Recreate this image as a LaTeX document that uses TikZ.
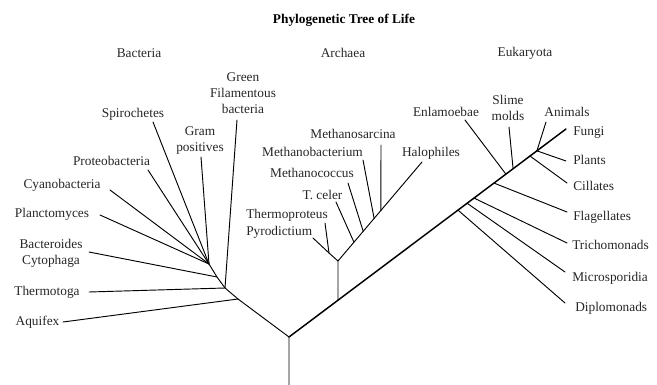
\documentclass[tikz,border=0pt]{standalone}
\usepackage{fontspec}
\setmainfont{Liberation Serif}
\usetikzlibrary{calc}

\begin{document}
\begin{tikzpicture}[
  x=0.75pt, y=-0.75pt,
  taxon/.style={inner sep=0pt, align=center, text=black!85,
                font=\fontsize{10}{12}\selectfont},
  kingdom/.style={taxon},
  heading/.style={taxon, text=black, font=\fontsize{10}{12}\selectfont\bfseries},
  branch/.style={draw=black, line width=0.7pt, line cap=round},
  trunk/.style={branch, line width=1.1pt}
]
  \useasboundingbox (0,0) rectangle (657,385);

  % Title and domains
  \node[heading] (title) at (344,20) {Phylogenetic Tree of Life};
  \node[kingdom] (bacteria)  at (139,53) {Bacteria};
  \node[kingdom] (archaea)   at (343,53) {Archaea};
  \node[kingdom] (eukaryota) at (525,53) {Eukaryota};

  % Root and main trunk
  \coordinate (base) at (289,385);
  \coordinate (root) at (289,337);
  \coordinate (fungi-tip) at (566,129);
  \coordinate (arc)  at ($(root)!0.177!(fungi-tip)$);
  \coordinate (euk1) at ($(root)!0.610!(fungi-tip)$);
  \coordinate (euk2) at ($(root)!0.643!(fungi-tip)$);
  \coordinate (euk3) at ($(root)!0.668!(fungi-tip)$);
  \coordinate (euk4) at ($(root)!0.740!(fungi-tip)$);
  \coordinate (euk5) at ($(root)!0.783!(fungi-tip)$);
  \coordinate (euk6) at ($(root)!0.809!(fungi-tip)$);
  \coordinate (euk7) at ($(root)!0.870!(fungi-tip)$);
  \coordinate (euk8) at ($(root)!0.895!(fungi-tip)$);

  % Bacteria stem
  \coordinate (bac1) at (238,299);
  \coordinate (bac2) at (225,288);
  \coordinate (bac3) at (217,277);
  \coordinate (bac4) at (209,264);

  % Archaea stem
  \coordinate (arc0) at (338,261);
  \coordinate (arc1) at (329,253);
  \coordinate (halo-tip) at (422,162);
  \coordinate (arc2) at ($(arc0)!0.19!(halo-tip)$);
  \coordinate (arc3) at ($(arc0)!0.30!(halo-tip)$);
  \coordinate (arc4) at ($(arc0)!0.43!(halo-tip)$);
  \coordinate (arc5) at ($(arc0)!0.51!(halo-tip)$);

  % Bacteria leaves
  \node[taxon] (aquifex)  at (37.5,322) {Aquifex};
  \node[taxon] (thermotoga) at (47,292) {Thermotoga};
  \node[taxon] (bacteroides) at (51,253) {Bacteroides\\Cytophaga};
  \node[taxon] (plancto)  at (52,214) {Planctomyces};
  \node[taxon] (cyano)    at (62,185) {Cyanobacteria};
  \node[taxon] (proteo)   at (111.5,161) {Proteobacteria};
  \node[taxon] (spiro)    at (133,114) {Spirochetes};
  \node[taxon] (gram)     at (200,141) {Gram\\positives};
  \node[taxon] (green)    at (243,93) {Green\\Filamentous\\bacteria};
  \coordinate (aquifex-tip) at (63,322);
  \coordinate (thermotoga-tip) at (89,292);
  \coordinate (bacteroides-tip) at (89,252);
  \coordinate (plancto-tip) at (100,215);
  \coordinate (cyano-tip) at (110,190);
  \coordinate (proteo-tip) at (148,170);
  \coordinate (spiro-tip) at (153,122);
  \coordinate (gram-tip) at (201,157);
  \coordinate (green-tip) at (237,120);

  % Archaea leaves
  \node[taxon, anchor=west] (thermoproteus) at (246,215) {Thermoproteus};
  \node[taxon, anchor=west] (pyrodictium) at (246,232) {Pyrodictium};
  \node[taxon] (celer)    at (322.5,195) {T. celer};
  \node[taxon] (mcoccus)  at (312,173) {Methanococcus};
  \node[taxon] (mbact)    at (312.5,152) {Methanobacterium};
  \node[taxon] (msarcina) at (353,134) {Methanosarcina};
  \node[taxon] (halo)     at (431,153) {Halophiles};
  \coordinate (thermoproteus-tip) at (325,223);
  \coordinate (pyrodictium-tip) at (313,238);
  \coordinate (celer-tip) at (336,202);
  \coordinate (mcoccus-tip) at (348,183);
  \coordinate (mbact-tip) at (363,160);
  \coordinate (msarcina-tip) at (381,145);

  % Eukaryota leaves
  \node[taxon] (enlam)   at (446,112) {Enlamoebae};
  \node[taxon] (slime)   at (508,108) {Slime\\molds};
  \node[taxon] (animals) at (567,112) {Animals};
  \node[taxon, anchor=west] (fungi)   at (573,133) {Fungi};
  \node[taxon, anchor=west] (plants)  at (573,160) {Plants};
  \node[taxon, anchor=west] (cill)    at (573,186) {Cillates};
  \node[taxon, anchor=west] (flag)    at (573,217) {Flagellates};
  \node[taxon, anchor=west] (tricho)  at (572,245) {Trichomonads};
  \node[taxon, anchor=west] (micro)   at (572,278) {Microsporidia};
  \node[taxon, anchor=west] (diplo)   at (575,308) {Diplomonads};
  \coordinate (enlam-tip) at (465,120);
  \coordinate (slime-tip) at (509,127);
  \coordinate (animals-tip) at (546,122);
  \coordinate (plants-tip) at (566,161);
  \coordinate (cill-tip) at (567,183);
  \coordinate (flag-tip) at (567,212);
  \coordinate (tricho-tip) at (567,243);
  \coordinate (micro-tip) at (565,272);
  \coordinate (diplo-tip) at (565,303);

  % Branches
  \draw[branch] (base) -- (root) -- (bac1) -- (bac2) -- (bac3) -- (bac4);
  \draw[trunk] (root) -- (fungi-tip);
  \draw[branch] (aquifex-tip) -- (bac1);
  \draw[branch] (thermotoga-tip) -- (bac2);
  \draw[branch] (green-tip) -- (bac2);
  \draw[branch] (bacteroides-tip) -- (bac3);
  \draw[branch] (plancto-tip) -- (bac4);
  \draw[branch] (cyano-tip) -- (bac4);
  \draw[branch] (proteo-tip) -- (bac4);
  \draw[branch] (spiro-tip) -- (bac4);
  \draw[branch] (gram-tip) -- (bac4);

  \draw[branch] (arc) -- (arc0) -- (halo-tip);
  \draw[branch] (arc0) -- (arc1);
  \draw[branch] (thermoproteus-tip) -- (arc1);
  \draw[branch] (pyrodictium-tip) -- (arc1);
  \draw[branch] (celer-tip) -- (arc2);
  \draw[branch] (mcoccus-tip) -- (arc3);
  \draw[branch] (mbact-tip) -- (arc4);
  \draw[branch] (msarcina-tip) -- (arc5);

  \draw[branch] (diplo-tip) -- (euk1);
  \draw[branch] (micro-tip) -- (euk2);
  \draw[branch] (tricho-tip) -- (euk3);
  \draw[branch] (flag-tip) -- (euk4);
  \draw[branch] (enlam-tip) -- (euk5);
  \draw[branch] (slime-tip) -- (euk6);
  \draw[branch] (cill-tip) -- (euk7);
  \draw[branch] (animals-tip) -- (euk8);
  \draw[branch] (plants-tip) -- (euk8);
\end{tikzpicture}
\end{document}
